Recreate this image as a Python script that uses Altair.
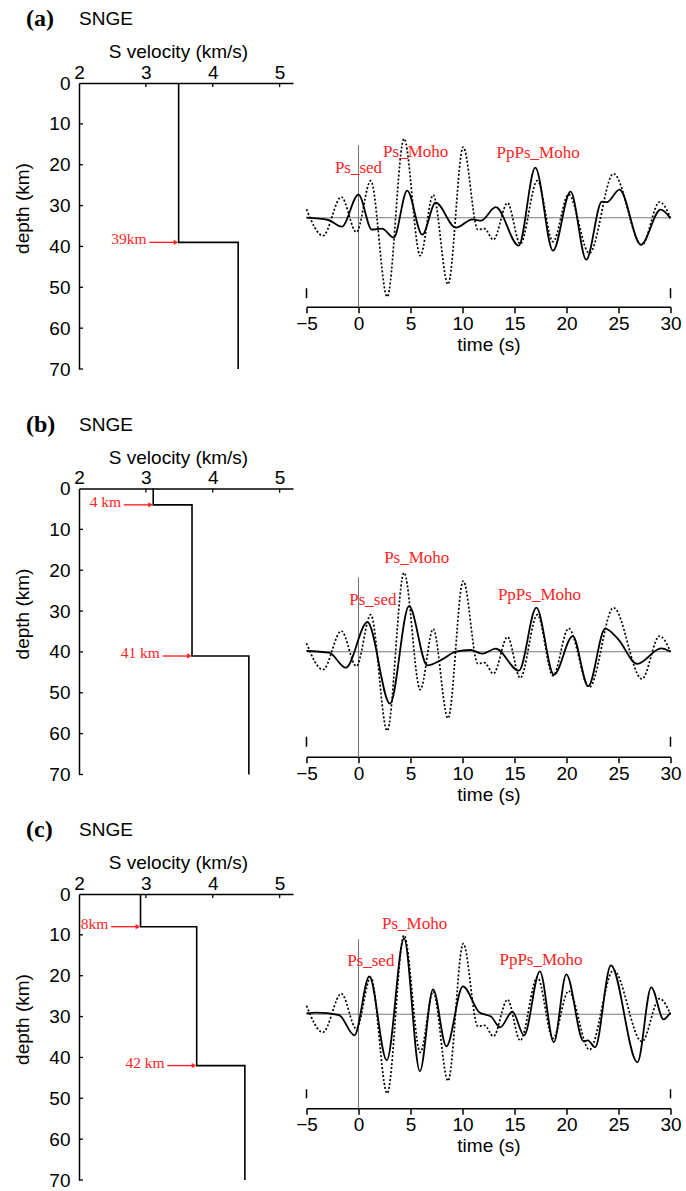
import altair as alt
import pandas as pd

# ---------------- data ----------------
# S-velocity models (km/s) and interface depths (km)
vs_a = [3.49, 4.38]
iface_a = [39]
iface_txt_a = ["39km"]

vs_b = [3.11, 3.69, 4.54]
iface_b = [4, 41]
iface_txt_b = ["4 km", "41 km"]

vs_c = [2.92, 3.76, 4.48]
iface_c = [8, 42]
iface_txt_c = ["8km", "42 km"]

# observed receiver function (dotted), extrema and shoulders
t_obs = [-5, -3.42, -1.65, -0.2, 1.18, 2.76, 4.38, 5.94, 7.18, 8.61, 10.07, 11.48,
         12.1, 12.97, 14.33, 15.55, 17.2, 18.7, 20.2, 22.2, 24.52, 27.25, 28.95, 30]
a_obs = [8.5, -18, 20.7, -14.5, 37, -79, 79, -38, 22.7, -66.5, 70.7, -12,
         -11, -22, 14.7, -26.3, 37, -24, 23.3, -35.5, 44, -27.3, 15.7, 0]

# synthetic receiver functions (solid) for models a, b, c
t_syn_a = [-5, -2.9, -1.61, 0.0, 1.29, 2.26, 3.39, 4.68, 6.13, 7.42, 9.35, 10.97, 11.77,
           13.2, 15.4, 17.0, 18.7, 20.39, 21.9, 23.4, 23.87, 25.1, 27.15, 29.05, 30]
a_syn_a = [0, -2.3, -9, 23, -12, -11, -20, 27, -17, 15, -10, -1.7, -3,
           10.5, -28, 50, -33, 26, -42, 16, 15.5, 28, -27, 8, -0.7]

t_syn_b = [-5, -2.82, -1.22, 0.86, 3.03, 4.86, 6.62, 8.06, 9.35, 10.79, 11.9, 13.19,
           15.43, 17.1, 18.79, 20.6, 22.09, 23.72, 24.95, 26.8, 29.1, 30]
a_syn_b = [0.7, -1, -16, 29.5, -52, 45.5, -13.7, -7.7, 0, 1.7, -2, 3,
           -19, 44, -23, 15.5, -34.5, 23, 12.7, -12.2, 3.3, 0]

t_syn_c = [-5, -4.1, -1.88, -0.39, 1.04, 2.72, 4.38, 5.9, 7.17, 8.45, 10.04, 11.63,
           12.74, 13.63, 14.8, 15.92, 17.44, 18.78, 19.98, 21.64, 22.05, 22.75, 24.27,
           26.82, 28.15, 29.33, 30]
a_syn_c = [1, 1.7, -0.7, -21, 38, -46, 76, -57, 25, -32, 28, 1.7,
           -2.3, -13, 2.7, -21, 43, -28, 40, -27, -26, -33, 49,
           -48, 27, -5, 1.7]

# phase labels
phase_names = ["Ps_sed", "Ps_Moho", "PpPs_Moho"]
phase_t_a = [0.0, 5.5, 17.27]
phase_a_a = [45, 60.5, 59.5]
phase_t_b = [1.38, 5.6, 17.4]
phase_a_b = [46.7, 88.3, 51.7]
phase_t_c = [1.18, 5.39, 17.55]
phase_a_c = [48.3, 85, 49.3]

VS_TICKS = [2, 3, 4, 5]
DEPTH_TICKS = [0, 10, 20, 30, 40, 50, 60, 70]
TIME_TICKS = [-5, 0, 5, 10, 15, 20, 25, 30]

# ---------------- styling ----------------
SANS = "Liberation Sans"
SERIF = "Liberation Serif"
RED = "#ff2424"
GREY = "#7a7a7a"
DEPTH_MAX = 70
VEL_W, VEL_H = 214, 286
WAV_W = 364


def velocity_panel(tag, vs, iface, iface_txt):
    rows = []
    top = 0
    for i, v in enumerate(vs):
        bot = iface[i] if i < len(iface) else DEPTH_MAX
        rows.append({"v": v, "z": top, "k": 2 * i})
        rows.append({"v": v, "z": bot, "k": 2 * i + 1})
        top = bot
    prof = pd.DataFrame(rows)

    xs = alt.Scale(domain=[2, 5.2], nice=False, zero=False)
    ys = alt.Scale(domain=[0, DEPTH_MAX], reverse=True, nice=False, zero=False)
    x_ax = alt.Axis(orient="top", values=VS_TICKS, format="d", title="S velocity (km/s)",
                    ticks=False, labelPadding=1, labelFlush=False,
                    titleX=99, titleY=-25.5, titleAlign="center",
                    titleBaseline="alphabetic")
    y_ax = alt.Axis(orient="left", values=DEPTH_TICKS, format="d", title="depth (km)",
                    ticks=False, labelPadding=9, labelFlush=False,
                    titlePadding=16, titleY=125, titleAlign="center")

    line = alt.Chart(prof).mark_line(color="black", strokeWidth=1.6).encode(
        x=alt.X("v:Q", scale=xs, axis=x_ax),
        y=alt.Y("z:Q", scale=ys, axis=y_ax),
        order="k:Q",
    )

    # inward tick marks on both axes
    tick_top = alt.Chart(pd.DataFrame({"v": VS_TICKS[1:], "z": 0, "z2": 1.0})).mark_rule(
        color="black", strokeWidth=1.3).encode(x="v:Q", y="z:Q", y2="z2")
    tick_left = alt.Chart(pd.DataFrame({"v": 2, "v2": 2.06, "z": DEPTH_TICKS[1:]})).mark_rule(
        color="black", strokeWidth=1.3).encode(x="v:Q", x2="v2", y="z:Q")

    # red arrows pointing at each interface
    tip = [vs[i] - 0.04 for i in range(len(iface))]
    arr = pd.DataFrame({
        "v": [t - 0.40 for t in tip],
        "v2": tip,
        "z": iface,
        "txt": iface_txt,
        "vt": [t - 0.44 for t in tip],
    })
    arrow = alt.Chart(arr).mark_rule(color=RED, strokeWidth=1.4).encode(
        x="v:Q", x2="v2", y="z:Q")
    head = alt.Chart(arr).mark_point(shape="triangle-right", filled=True, color=RED,
                                     size=28, opacity=1).encode(
        x=alt.X("v2:Q"), y="z:Q")
    label = alt.Chart(arr).mark_text(font=SERIF, fontSize=15.5, color=RED, align="right",
                                     baseline="alphabetic", dy=2).encode(
        x=alt.X("vt:Q"), y="z:Q", text="txt:N")

    heading = alt.Chart(pd.DataFrame({"h": [f"({tag})"]})).mark_text(
        font=SERIF, fontSize=24, fontWeight="bold", align="left",
        baseline="alphabetic", color="black").encode(
        text="h:N", x=alt.value(-53), y=alt.value(-57))
    station = alt.Chart(pd.DataFrame({"h": ["SNGE"]})).mark_text(
        font=SANS, fontSize=19, align="left", baseline="alphabetic",
        color="black").encode(text="h:N", x=alt.value(0), y=alt.value(-58))

    return alt.layer(line, tick_top, tick_left, arrow, head, label, heading, station).properties(
        width=VEL_W, height=VEL_H)


def wave_panel(t_syn, a_syn, a_top, a_bot, zero_top, mark_hi, mark_lo, ph_t, ph_a):
    xs = alt.Scale(domain=[-5, 30], nice=False, zero=False)
    ys = alt.Scale(domain=[a_bot, a_top], nice=False, zero=False)
    x_ax = alt.Axis(orient="bottom", values=TIME_TICKS, format="d", title="time (s)",
                    tickSize=6, tickWidth=1.5, labelPadding=1.5, labelFlush=False,
                    titlePadding=2)

    zero = alt.Chart(pd.DataFrame({"t": [-5], "t2": [30], "a": [0]})).mark_rule(
        color=GREY, strokeWidth=1.1).encode(
        x=alt.X("t:Q", scale=xs, axis=x_ax), x2="t2",
        y=alt.Y("a:Q", scale=ys, axis=None))
    t0 = alt.Chart(pd.DataFrame({"t": [0], "a": [zero_top], "a2": [a_bot]})).mark_rule(
        color=GREY, strokeWidth=1.1).encode(x="t:Q", y="a:Q", y2="a2")
    obs = alt.Chart(pd.DataFrame({"t": t_obs, "a": a_obs})).mark_line(
        color="black", strokeWidth=1.7, strokeDash=[2, 2],
        interpolate="monotone").encode(x="t:Q", y="a:Q")
    syn = alt.Chart(pd.DataFrame({"t": t_syn, "a": a_syn})).mark_line(
        color="black", strokeWidth=1.8, interpolate="monotone").encode(x="t:Q", y="a:Q")
    ends = alt.Chart(pd.DataFrame({"t": [-5, 30], "a": mark_hi, "a2": mark_lo})).mark_rule(
        color="black", strokeWidth=1.5).encode(x="t:Q", y="a:Q", y2="a2")
    phases = alt.Chart(pd.DataFrame({"t": ph_t, "a": ph_a, "name": phase_names})).mark_text(
        font=SERIF, fontSize=17, color=RED, align="center", baseline="alphabetic").encode(
        x="t:Q", y="a:Q", text="name:N")

    return alt.layer(zero, t0, obs, syn, ends, phases).properties(
        width=WAV_W, height=a_top - a_bot)


va = velocity_panel("a", vs_a, iface_a, iface_txt_a)
vb = velocity_panel("b", vs_b, iface_b, iface_txt_b)
vc = velocity_panel("c", vs_c, iface_c, iface_txt_c)

wa = wave_panel(t_syn_a, a_syn_a, 134.7, -89, 72.7, -70.5, -80.5, phase_t_a, phase_a_a)
wb = wave_panel(t_syn_b, a_syn_b, 163.2, -105, 74.4, -85, -95, phase_t_b, phase_a_b)
wc = wave_panel(t_syn_c, a_syn_c, 120.3, -94, 75, -75, -84, phase_t_c, phase_a_c)

chart = alt.concat(
    va, wa, vb, wb, vc, wc,
    columns=2,
    spacing={"row": 119.5, "column": 13.5},
    bounds="flush",
).properties(
    padding={"left": 13, "top": 7, "right": 0, "bottom": 0},
    background="white",
).configure_view(
    stroke=None
).configure_axis(
    domainColor="black", domainWidth=1.5, tickColor="black",
    labelFont=SANS, labelFontSize=19, labelColor="black", labelOverlap=False,
    titleFont=SANS, titleFontSize=19, titleFontWeight="normal", titleColor="black",
    grid=False,
)

chart.save("out.html", embed_options={"renderer": "svg", "actions": False})
